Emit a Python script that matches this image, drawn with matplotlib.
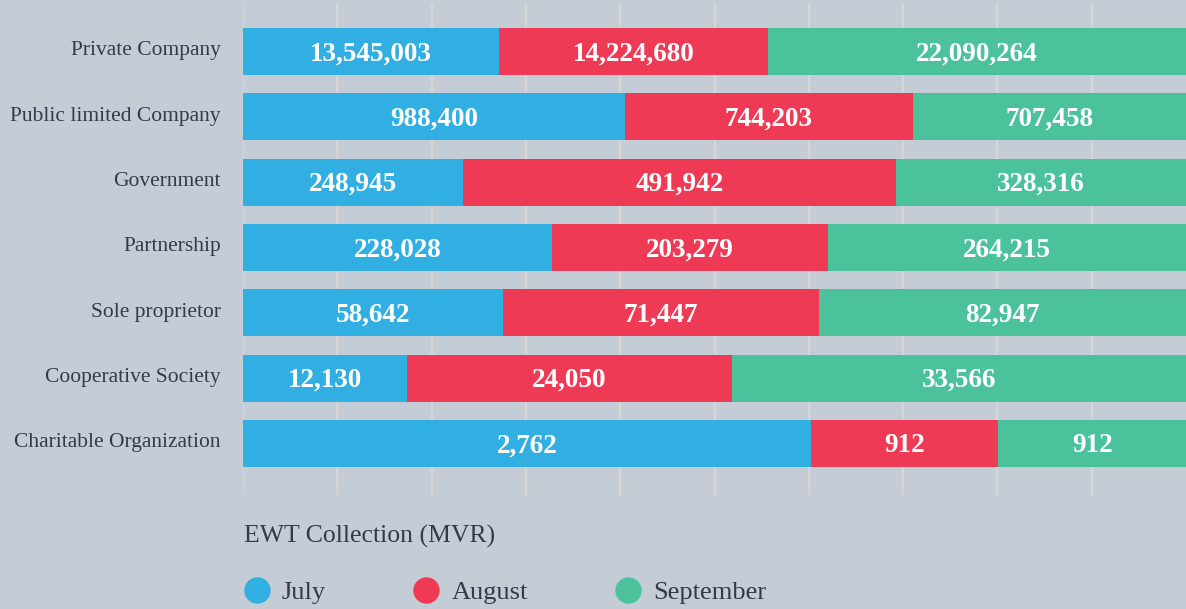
import numpy as np
import matplotlib.pyplot as plt
import matplotlib.transforms as mtransforms
from matplotlib.lines import Line2D

# ---------- data ----------
categories = ["Private Company", "Public limited Company", "Government",
              "Partnership", "Sole proprietor", "Cooperative Society",
              "Charitable Organization"]
july = [13545003, 988400, 248945, 228028, 58642, 12130, 2762]
august = [14224680, 744203, 491942, 203279, 71447, 24050, 912]
september = [22090264, 707458, 328316, 264215, 82947, 33566, 912]
months = ["July", "August", "September"]
colors = ["#31aee2", "#ef3a56", "#4bc19c"]

BG = "#c4cdd6"
TXT = "#343a4e"
GRID = "#d9d5d3"

plt.rcParams["font.family"] = ["Liberation Serif", "DejaVu Serif"]

series = np.array([july, august, september], dtype=float)
totals = series.sum(axis=0)
shares = series / totals * 100

fig = plt.figure(figsize=(11.86, 6.09), dpi=100, facecolor=BG)
ax = fig.add_axes([243 / 1186, 1 - 495 / 609, 943 / 1186, 492 / 609])
ax.set_facecolor(BG)

y = np.arange(len(categories))
left = np.zeros(len(categories))
for k in range(3):
    ax.barh(y, shares[k], left=left, height=0.72, color=colors[k], zorder=3)
    for i in range(len(categories)):
        ax.text(left[i] + shares[k][i] / 2, y[i] + 0.04, f"{int(series[k][i]):,}",
                ha="center", va="center", color="white", fontsize=19.5,
                fontweight="bold", zorder=4)
    left += shares[k]

for gx in range(0, 100, 10):
    ax.axvline(gx, color=GRID, lw=1.6, zorder=1)

ax.set_xlim(0, 100)
ax.set_ylim(6.79, -0.74)
ax.set_yticks(y)
ax.set_yticklabels(categories, fontsize=15.5, color=TXT)
ax.tick_params(axis="y", length=0, pad=16)
ax.tick_params(axis="x", length=0, labelbottom=False)
shift = mtransforms.ScaledTranslation(0, 3 / 100, fig.dpi_scale_trans)
for lab in ax.get_yticklabels():
    lab.set_transform(lab.get_transform() + shift)
for s in ax.spines.values():
    s.set_visible(False)

handles = [Line2D([], [], marker="o", ls="", markersize=18, color=c) for c in colors]
leg = fig.legend(handles, months, loc="upper left", bbox_to_anchor=(233 / 1186, 1 - 514 / 609),
                 ncol=3, frameon=False, title="EWT Collection (MVR)",
                 alignment="left", fontsize=19, title_fontsize=18.5,
                 labelcolor=TXT, handletextpad=0.45, columnspacing=3.3,
                 borderaxespad=0, handlelength=1.0)
leg.get_title().set_color(TXT)
leg._legend_box.sep = 24

fig.savefig("out.png", dpi=100, facecolor=BG)
